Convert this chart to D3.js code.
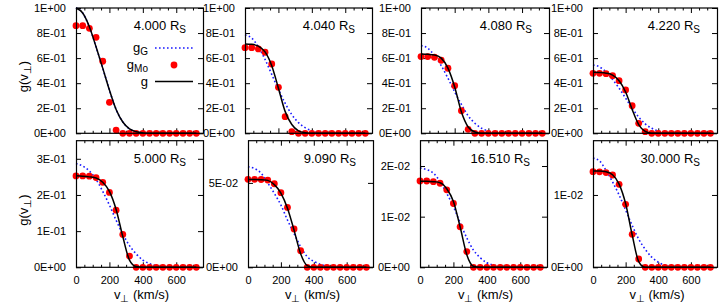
<!DOCTYPE html>
<html>
<head>
<meta charset="utf-8">
<script src="https://cdn.jsdelivr.net/npm/d3@7"></script>
<style>
  body { margin: 0; background: #fff; }
  text { font-family: "Liberation Sans", Arial, sans-serif; }
</style>
</head>
<body>
<svg id="canvas" width="726" height="306"></svg>
<script>
// perpendicular speeds (km/s) of the sampled points
var vPerp = [0, 40, 80, 120, 160, 200, 240, 280, 320, 360, 400, 440, 480, 520, 560, 600, 640, 680, 720];

// panel labels (heliocentric distance, R_S)
var radii = ["4.000", "4.040", "4.080", "4.220", "5.000", "9.090", "16.510", "30.000"];

// y ranges and y ticks for each panel
var yMax = [1, 1, 1, 1, 0.35, 0.075, 0.025, 0.0175];
var yTicks = [
  [0, 0.2, 0.4, 0.6, 0.8, 1], [0, 0.2, 0.4, 0.6, 0.8, 1],
  [0, 0.2, 0.4, 0.6, 0.8, 1], [0, 0.2, 0.4, 0.6, 0.8, 1],
  [0, 0.1, 0.2, 0.3], [0, 0.05], [0, 0.01, 0.02], [0, 0.01]
];
var xTicks = [0, 200, 400, 600];
var xMinor = [50, 100, 150, 250, 300, 350, 450, 500, 550, 650, 700];

// g_Mo (red points)
var gMo1 = [0.859, 0.859, 0.838, 0.766, 0.575, 0.247, 0.026, 0, 0, 0, 0, 0, 0, 0, 0, 0, 0, 0, 0];
var gMo2 = [0.683, 0.683, 0.673, 0.647, 0.553, 0.367, 0.133, 0.013, 0, 0, 0, 0, 0, 0, 0, 0, 0, 0, 0];
var gMo3 = [0.612, 0.612, 0.607, 0.583, 0.519, 0.38, 0.18, 0.032, 0, 0, 0, 0, 0, 0, 0, 0, 0, 0, 0];
var gMo4 = [0.479, 0.479, 0.476, 0.46, 0.42, 0.346, 0.22, 0.08, 0.013, 0, 0, 0, 0, 0, 0, 0, 0, 0, 0];
var gMo5 = [0.2525, 0.2525, 0.252, 0.248, 0.235, 0.207, 0.158, 0.091, 0.031, 0, 0, 0, 0, 0, 0, 0, 0, 0, 0];
var gMo6 = [0.0521, 0.0521, 0.052, 0.0517, 0.0495, 0.0442, 0.0355, 0.0227, 0.0098, 0, 0, 0, 0, 0, 0, 0, 0, 0, 0];
var gMo7 = [0.01704, 0.01704, 0.0169, 0.0166, 0.0153, 0.0126, 0.008, 0.0031, 0, 0, 0, 0, 0, 0, 0, 0, 0, 0, 0];
var gMo8 = [0.01322, 0.0132, 0.0131, 0.01276, 0.01147, 0.0087, 0.00456, 0.00115, 0, 0, 0, 0, 0, 0, 0, 0, 0, 0, 0];

// g_G (blue dotted)
var gG1 = [1.0, 0.96, 0.85, 0.69, 0.52, 0.345, 0.19, 0.09, 0.035, 0.012, 0.003, 0, 0, 0, 0, 0, 0, 0, 0];
var gG2 = [0.785, 0.76, 0.69, 0.59, 0.47, 0.35, 0.24, 0.15, 0.085, 0.045, 0.02, 0.008, 0.003, 0, 0, 0, 0, 0, 0];
var gG3 = [0.70, 0.68, 0.62, 0.54, 0.44, 0.33, 0.23, 0.14, 0.08, 0.04, 0.018, 0.007, 0.002, 0, 0, 0, 0, 0, 0];
var gG4 = [0.545, 0.53, 0.49, 0.43, 0.36, 0.28, 0.2, 0.13, 0.075, 0.04, 0.018, 0.007, 0.002, 0, 0, 0, 0, 0, 0];
var gG5 = [0.287, 0.28, 0.266, 0.243, 0.21, 0.172, 0.13, 0.092, 0.06, 0.037, 0.02, 0.01, 0.004, 0.001, 0, 0, 0, 0, 0];
var gG6 = [0.0596, 0.0585, 0.0557, 0.05, 0.0438, 0.0369, 0.028, 0.02, 0.0122, 0.0063, 0.0035, 0.0018, 0.0006, 0, 0, 0, 0, 0, 0];
var gG7 = [0.0196, 0.0193, 0.0186, 0.0169, 0.0146, 0.012, 0.0088, 0.0058, 0.0034, 0.0019, 0.0009, 0.0004, 0.0001, 0, 0, 0, 0, 0, 0];
var gG8 = [0.0151, 0.0147, 0.0134, 0.0118, 0.01, 0.0079, 0.0058, 0.0039, 0.0025, 0.0014, 0.0007, 0.0003, 0.0001, 0, 0, 0, 0, 0, 0];

// g (black solid)
var g1 = [1.0, 0.96, 0.85, 0.69, 0.52, 0.345, 0.19, 0.09, 0.035, 0.012, 0.003, 0, 0, 0, 0, 0, 0, 0, 0];
var g2 = [0.713, 0.71, 0.695, 0.65, 0.54, 0.36, 0.175, 0.07, 0.02, 0.005, 0, 0, 0, 0, 0, 0, 0, 0, 0];
var g3 = [0.633, 0.63, 0.625, 0.60, 0.52, 0.37, 0.17, 0.05, 0.01, 0, 0, 0, 0, 0, 0, 0, 0, 0, 0];
var g4 = [0.487, 0.485, 0.48, 0.465, 0.42, 0.33, 0.19, 0.07, 0.015, 0, 0, 0, 0, 0, 0, 0, 0, 0, 0];
var g5 = [0.253, 0.252, 0.25, 0.247, 0.235, 0.21, 0.16, 0.085, 0.02, 0.002, 0, 0, 0, 0, 0, 0, 0, 0, 0];
var g6 = [0.052, 0.052, 0.0519, 0.0515, 0.049, 0.044, 0.035, 0.022, 0.008, 0.001, 0, 0, 0, 0, 0, 0, 0, 0, 0];
var g7 = [0.017, 0.017, 0.0169, 0.0167, 0.0155, 0.013, 0.008, 0.0025, 0.0002, 0, 0, 0, 0, 0, 0, 0, 0, 0, 0];
var g8 = [0.0133, 0.0133, 0.0132, 0.0128, 0.0115, 0.0088, 0.0045, 0.0008, 0, 0, 0, 0, 0, 0, 0, 0, 0, 0, 0];

var gMo = [gMo1, gMo2, gMo3, gMo4, gMo5, gMo6, gMo7, gMo8];
var gG = [gG1, gG2, gG3, gG4, gG5, gG6, gG7, gG8];
var g = [g1, g2, g3, g4, g5, g6, g7, g8];

var svg = d3.select("#canvas");

// panel frames (pixels)
var lefts = [76, 245, 421, 593, 76, 248, 420, 593];
var rights = [203, 372, 549, 717, 203, 373, 547, 717];
var tops = [8, 140.7];
var bottoms = [133.3, 267.3];

function fmtE(d) {
  if (d === 0) return "0E+00";
  var e = Math.floor(Math.log10(d) + 1e-9);
  var m = Math.round(d / Math.pow(10, e));
  if (m === 10) { m = 1; e++; }
  return m + "E" + (e < 0 ? "-" : "+") + (Math.abs(e) < 10 ? "0" : "") + Math.abs(e);
}

var fs = 11;

for (var p = 0; p < 8; p++) {
  var row = p < 4 ? 0 : 1;
  var x = d3.scaleLinear().domain([0, 760]).range([lefts[p], rights[p]]);
  var y = d3.scaleLinear().domain([0, yMax[p]]).range([bottoms[row], tops[row]]);
  var pg = svg.append("g");

  // ticks, mirrored on all four sides and pointing inward
  pg.append("g").attr("transform", "translate(" + lefts[p] + ",0)")
    .call(d3.axisLeft(y).tickValues(yTicks[p]).tickSize(-5).tickPadding(10).tickFormat(fmtE));
  pg.append("g").attr("transform", "translate(" + rights[p] + ",0)")
    .call(d3.axisRight(y).tickValues(yTicks[p]).tickSize(-5).tickFormat(""));
  pg.append("g").attr("transform", "translate(0," + bottoms[row] + ")")
    .call(d3.axisBottom(x).tickValues(xTicks).tickSize(-5).tickPadding(9)
      .tickFormat(row === 1 ? d3.format("d") : ""));
  pg.append("g").attr("transform", "translate(0," + bottoms[row] + ")")
    .call(d3.axisBottom(x).tickValues(xMinor).tickSize(-2.5).tickFormat(""));
  pg.append("g").attr("transform", "translate(0," + tops[row] + ")")
    .call(d3.axisTop(x).tickValues(xTicks).tickSize(-5).tickFormat(""));
  pg.append("g").attr("transform", "translate(0," + tops[row] + ")")
    .call(d3.axisTop(x).tickValues(xMinor).tickSize(-2.5).tickFormat(""));
  pg.selectAll(".domain").remove();
  pg.selectAll(".tick line").attr("stroke", "#000");
  pg.selectAll(".tick text").attr("font-family", null).style("font-size", fs + "px").attr("fill", "#000");

  // curves
  var line = d3.line()
    .x(function(d, i) { return x(vPerp[i]); })
    .y(function(d) { return y(d); })
    .curve(d3.curveMonotoneX);

  pg.append("path").datum(gG[p])
    .attr("d", line)
    .attr("fill", "none")
    .attr("stroke", "#1a1aff")
    .attr("stroke-width", 1.6)
    .attr("stroke-dasharray", "1.6,2.4");

  pg.selectAll("circle.mo").data(gMo[p]).enter().append("circle")
    .attr("class", "mo")
    .attr("cx", function(d, i) { return x(vPerp[i]); })
    .attr("cy", function(d) { return y(d); })
    .attr("r", 3.4)
    .attr("fill", "#ff0000");

  pg.append("path").datum(g[p])
    .attr("d", line)
    .attr("fill", "none")
    .attr("stroke", "#000")
    .attr("stroke-width", 1.5);

  // frame
  pg.append("rect")
    .attr("x", lefts[p] + 0.5).attr("y", tops[row])
    .attr("width", rights[p] - lefts[p]).attr("height", bottoms[row] - tops[row])
    .attr("fill", "none").attr("stroke", "#000").attr("stroke-width", 1.2);

  // panel title
  var t = pg.append("text")
    .attr("x", rights[p] - 17)
    .attr("y", tops[row] + 22)
    .attr("text-anchor", "end")
    .style("font-size", "13px");
  t.append("tspan").text(radii[p] + " R");
  t.append("tspan").attr("dy", 3).style("font-size", "10px").text("S");

  // x label
  if (row === 1) {
    var xt = pg.append("text")
      .attr("x", (lefts[p] + rights[p]) / 2 + 2)
      .attr("y", 299)
      .attr("text-anchor", "middle")
      .style("font-size", "13px");
    xt.append("tspan").text("v");
    xt.append("tspan").attr("dy", 3).style("font-size", "10px").text("\u22a5");
    xt.append("tspan").attr("dy", -3).text(" (km/s)");
  }

  // y label
  if (p === 0 || p === 4) {
    var yt = pg.append("text")
      .attr("transform", "translate(28," + ((tops[row] + bottoms[row]) / 2 + 6) + ") rotate(-90)")
      .attr("text-anchor", "middle")
      .style("font-size", "13px");
    yt.append("tspan").text("g(v");
    yt.append("tspan").attr("dy", 3).style("font-size", "10px").text("\u22a5");
    yt.append("tspan").attr("dy", -3).text(")");
  }

  // legend
  if (p === 0) {
    var keyX = 148, keyL = 155, keyR = 193;
    var keys = [["g", "G", 48], ["g", "Mo", 65], ["g", "", 81.5]];
    keys.forEach(function(k) {
      var kt = pg.append("text")
        .attr("x", keyX).attr("y", k[2] + 4)
        .attr("text-anchor", "end")
        .style("font-size", "13px");
      kt.append("tspan").text(k[0]);
      if (k[1]) kt.append("tspan").attr("dy", 3).style("font-size", "10px").text(k[1]);
    });
    pg.append("line").attr("x1", keyL).attr("x2", keyR).attr("y1", 48).attr("y2", 48)
      .attr("stroke", "#1a1aff").attr("stroke-width", 1.6).attr("stroke-dasharray", "1.6,2.4");
    pg.append("circle").attr("cx", (keyL + keyR) / 2).attr("cy", 65).attr("r", 3.4).attr("fill", "#ff0000");
    pg.append("line").attr("x1", keyL).attr("x2", keyR).attr("y1", 81.5).attr("y2", 81.5)
      .attr("stroke", "#000").attr("stroke-width", 1.5);
  }
}
</script>
</body>
</html>
